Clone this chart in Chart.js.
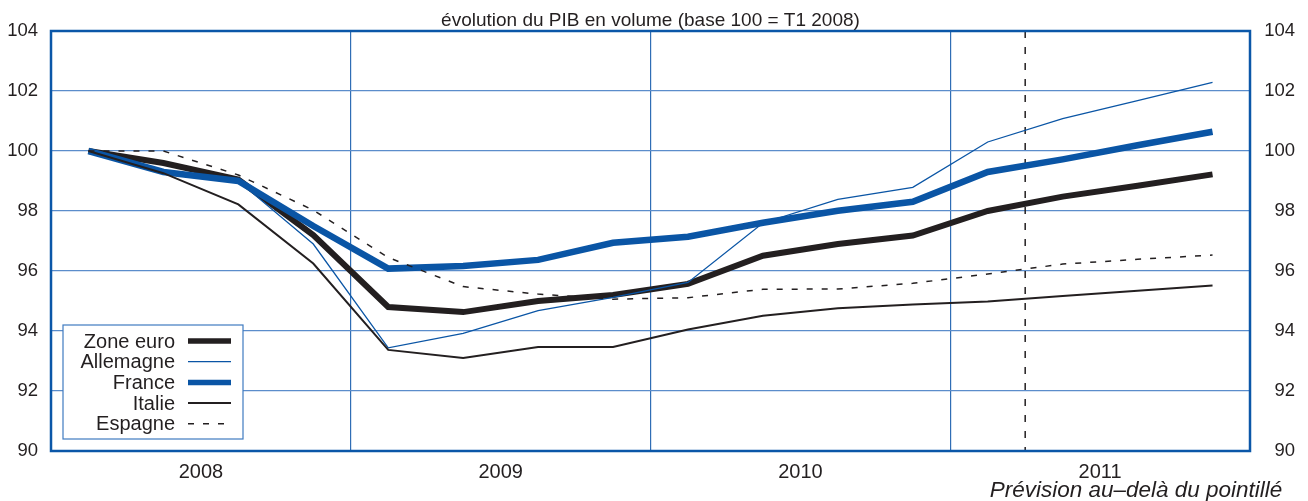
<!DOCTYPE html>
<html>
<head>
<meta charset="utf-8">
<script src="https://cdn.jsdelivr.net/npm/chart.js@4"></script>
<style>
  html, body { margin: 0; padding: 0; background: #fff; }
  #wrap { width: 1308px; height: 501px; }
</style>
</head>
<body>
<div id="wrap"><canvas id="chart" width="1308" height="501"></canvas></div>
<script>
// quarters 2008 T1 .. 2011 T4
const years = ['2008', '2009', '2010', '2011'];
const zoneEuro  = [100, 99.6, 99.05, 97.2, 94.8, 94.63, 95.0, 95.2, 95.57, 96.51, 96.9, 97.18, 98.0, 98.48, 98.84, 99.22];
const allemagne = [100, 99.3, 99.0, 96.9, 93.44, 93.92, 94.68, 95.12, 95.62, 97.6, 98.39, 98.79, 100.3, 101.08, 101.68, 102.29];
const france    = [100, 99.3, 99.0, 97.5, 96.08, 96.17, 96.37, 96.94, 97.14, 97.61, 98.01, 98.31, 99.3, 99.72, 100.19, 100.64];
const italie    = [100, 99.26, 98.22, 96.25, 93.37, 93.1, 93.47, 93.47, 94.05, 94.51, 94.76, 94.88, 94.98, 95.17, 95.34, 95.52];
const espagne   = [100, 100.0, 99.2, 98.03, 96.45, 95.48, 95.23, 95.06, 95.11, 95.39, 95.4, 95.59, 95.9, 96.23, 96.39, 96.53];
const forecastStart = 13; // quarter boundary where the forecast begins

const BLACK = '#231f20';
const BLUE = '#0a55a5';
const FONT = '"Liberation Sans", Arial, Helvetica, sans-serif';

const toPoints = (arr) => arr.map((v, i) => ({x: i + 0.5, y: v}));

const datasets = [
  {label: 'Zone euro', data: toPoints(zoneEuro), borderColor: BLACK, borderWidth: 6},
  {label: 'Allemagne', data: toPoints(allemagne), borderColor: BLUE, borderWidth: 1.3},
  {label: 'France', data: toPoints(france), borderColor: BLUE, borderWidth: 6.5},
  {label: 'Italie', data: toPoints(italie), borderColor: BLACK, borderWidth: 2},
  {label: 'Espagne', data: toPoints(espagne), borderColor: BLACK, borderWidth: 1.5, borderDash: [6, 9]}
].map((d, i) => ({...d, order: 5 - i, pointRadius: 0, fill: false, tension: 0}));

// title, footnote, forecast line, frame and legend box
const decorPlugin = {
  id: 'decor',
  beforeDatasetsDraw(chart) {
    const {ctx, chartArea: a, scales} = chart;
    const x = scales.x.getPixelForValue(forecastStart);
    ctx.save();
    ctx.strokeStyle = BLACK;
    ctx.lineWidth = 1.5;
    ctx.setLineDash([7, 9]);
    ctx.beginPath();
    ctx.moveTo(x, a.top);
    ctx.lineTo(x, a.bottom);
    ctx.stroke();
    ctx.restore();
  },
  afterDatasetsDraw(chart) {
    const {ctx, chartArea: a} = chart;
    ctx.save();
    // frame
    ctx.strokeStyle = '#0b57a8';
    ctx.lineWidth = 2.5;
    ctx.strokeRect(a.left, a.top, a.right - a.left, a.bottom - a.top);

    // legend box
    const bx = a.left + 12, bw = 180, bh = 114, by = a.bottom - 12 - bh;
    ctx.fillStyle = '#fff';
    ctx.fillRect(bx, by, bw, bh);
    ctx.strokeStyle = '#3f7bc0';
    ctx.lineWidth = 1.2;
    ctx.strokeRect(bx, by, bw, bh);
    ctx.font = '20px ' + FONT;
    ctx.textAlign = 'right';
    ctx.textBaseline = 'middle';
    chart.data.datasets.forEach((ds, i) => {
      const y = by + 16 + i * 20.7;
      ctx.fillStyle = BLACK;
      ctx.fillText(ds.label, bx + 112, y + 1);
      ctx.strokeStyle = ds.borderColor;
      ctx.lineWidth = Math.min(ds.borderWidth, 5.5);
      ctx.setLineDash(ds.borderDash || []);
      ctx.beginPath();
      ctx.moveTo(bx + 125, y);
      ctx.lineTo(bx + 168, y);
      ctx.stroke();
      ctx.setLineDash([]);
    });

    // title and footnote
    ctx.fillStyle = BLACK;
    ctx.textAlign = 'center';
    ctx.textBaseline = 'alphabetic';
    ctx.font = '19px ' + FONT;
    ctx.fillText('évolution du PIB en volume (base 100 = T1 2008)', (a.left + a.right) / 2, 26);
    ctx.font = 'italic 22.5px ' + FONT;
    ctx.fillText('Prévision au–delà du pointillé', 1136, 497);
    ctx.restore();
  }
};

const yTicks = {stepSize: 2, padding: 13, color: BLACK, font: {family: FONT, size: 18.5}};

new Chart(document.getElementById('chart'), {
  type: 'line',
  data: {datasets},
  options: {
    responsive: false,
    animation: false,
    parsing: true,
    layout: {padding: {top: 31, right: 13, left: 0, bottom: 0}},
    plugins: {legend: {display: false}, title: {display: false}, tooltip: {enabled: false}},
    scales: {
      x: {
        type: 'linear', min: 0, max: 16,
        border: {display: false},
        grid: {
          drawTicks: false,
          lineWidth: 1.2,
          color: (c) => (c.tick && c.tick.value % 4 === 0 && c.tick.value > 0 && c.tick.value < 16) ? '#2f6db5' : 'rgba(0,0,0,0)'
        },
        ticks: {
          stepSize: 2, padding: 9, color: BLACK, maxRotation: 0, autoSkip: false,
          font: {family: FONT, size: 20},
          callback: (v) => (v % 4 === 2) ? years[(v - 2) / 4] : ''
        },
        afterFit: (s) => { s.height = 50; }
      },
      y: {
        min: 90, max: 104,
        border: {display: false},
        grid: {drawTicks: false, color: '#5b8dcb', lineWidth: 1.2},
        ticks: yTicks,
        afterFit: (s) => { s.width = 51; }
      },
      y2: {
        position: 'right', min: 90, max: 104,
        border: {display: false},
        grid: {display: false, drawTicks: false},
        ticks: {...yTicks, crossAlign: 'far'},
        afterFit: (s) => { s.width = 45; }
      }
    }
  },
  plugins: [decorPlugin]
});
</script>
</body>
</html>
